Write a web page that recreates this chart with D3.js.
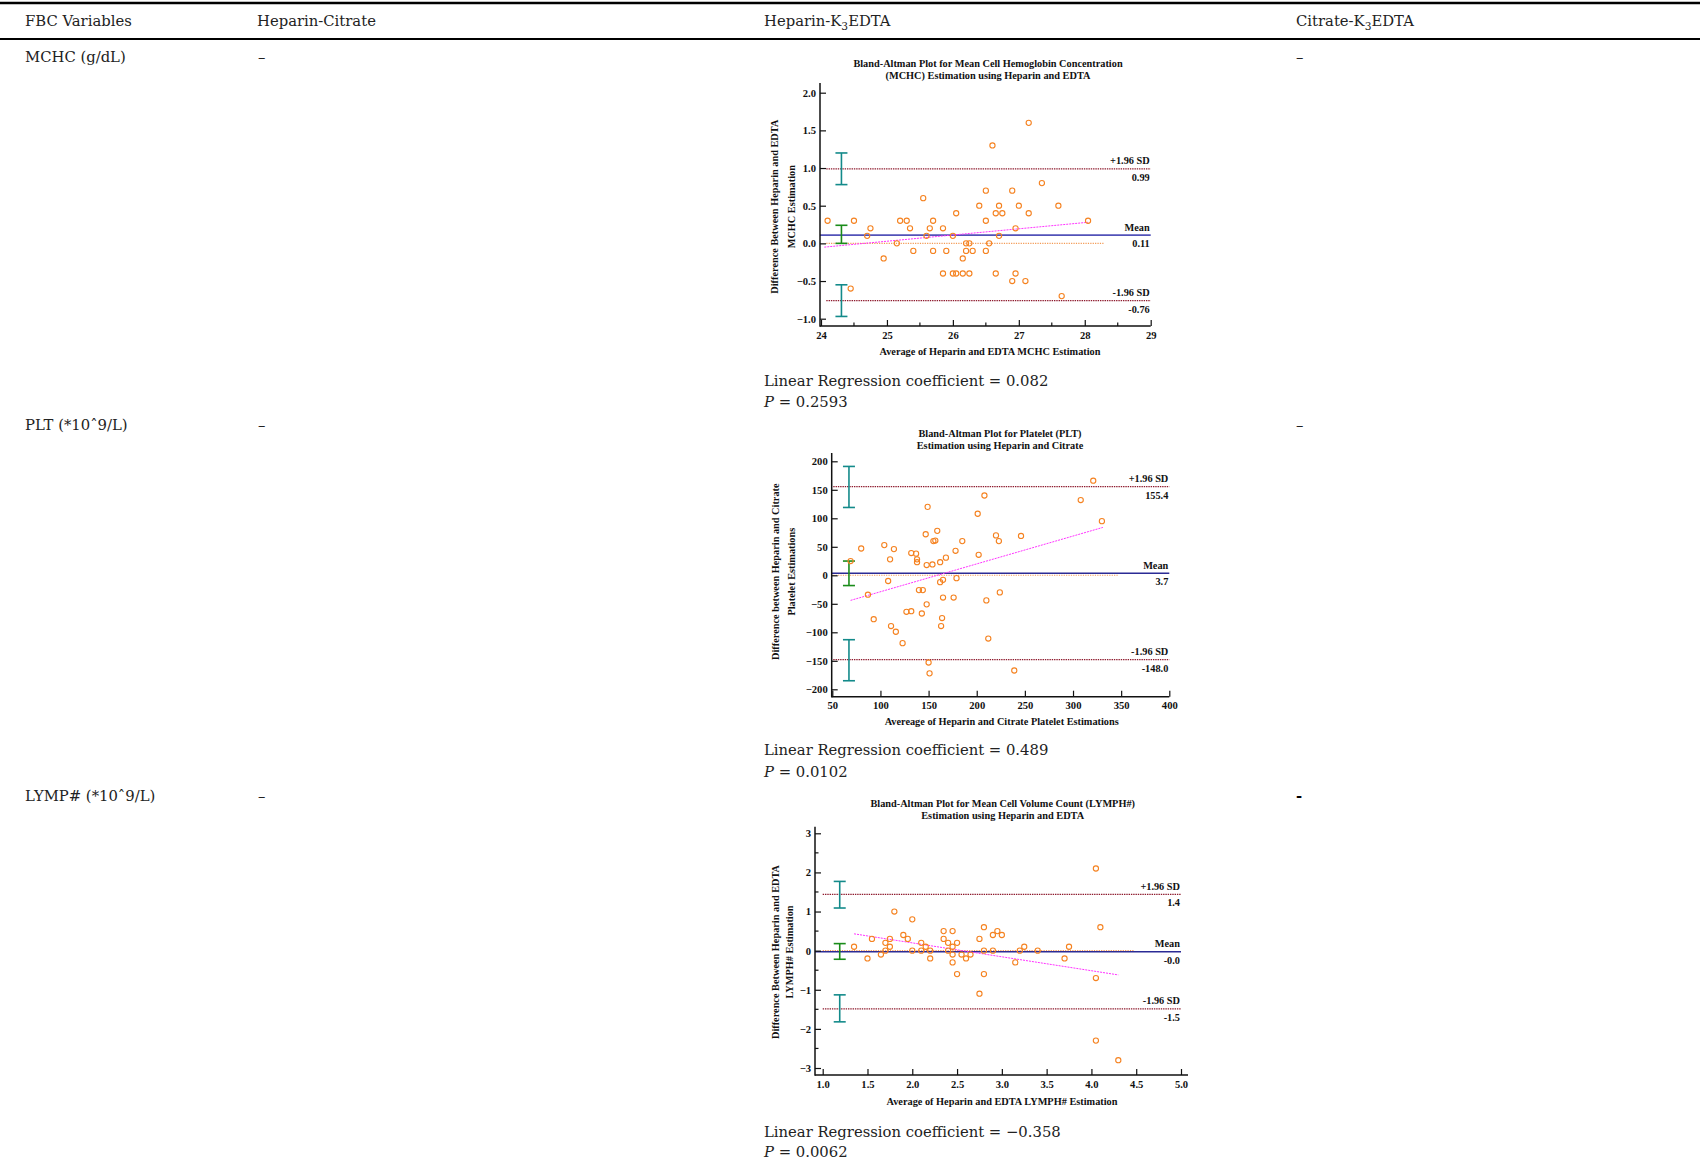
<!DOCTYPE html>
<html><head><meta charset="utf-8">
<script src="https://cdn.jsdelivr.net/npm/d3@7"></script>
<style>body{margin:0;background:#fff}</style>
</head><body><svg id="c" width="1700" height="1162"></svg>
<script>
// ---------- table text ----------
const headers = ["FBC Variables", "Heparin-Citrate", "Heparin-K|3|EDTA", "Citrate-K|3|EDTA"];
const rowLabels = ["MCHC (g/dL)", "PLT (*10ˆ9/L)", "LYMP# (*10ˆ9/L)"];
const regCoefs = ["0.082", "0.489", "\u22120.358"];
const pValues = ["0.2593", "0.0102", "0.0062"];

// ---------- MCHC (Heparin vs EDTA) ----------
const mchcAvg  = [24.1,24.45,24.5,24.7,24.75,24.95,25.15,25.2,25.3,25.35,25.4,25.55,25.6,25.65,25.7,25.7,25.85,25.85,25.9,26.0,26.05,26.0,26.05,26.15,26.15,26.2,26.2,26.25,26.25,26.3,26.4,26.5,26.5,26.5,26.55,26.6,26.65,26.65,26.7,26.7,26.75,26.9,26.9,26.95,26.95,27.0,27.1,27.15,27.15,27.35,27.6,27.65,28.05];
const mchcDiff = [0.3,-0.6,0.3,0.1,0.2,-0.2,0.0,0.3,0.3,0.2,-0.1,0.6,0.1,0.2,0.3,-0.1,0.2,-0.4,-0.1,0.1,0.4,-0.4,-0.4,-0.4,-0.2,-0.1,0.0,0.0,-0.4,-0.1,0.5,0.7,0.3,-0.1,0.0,1.3,0.4,-0.4,0.5,0.1,0.4,0.7,-0.5,0.2,-0.4,0.5,-0.5,1.6,0.4,0.8,0.5,-0.7,0.3];
const mchcLimits = [0.99, 0.11, -0.76];           // +1.96 SD, mean, -1.96 SD
const mchcLimitText = ["0.99", "0.11", "-0.76"];
const mchcCI = [[0.78, 1.2], [0.0, 0.24], [-0.97, -0.55]];
const mchcReg = [[24.05, -0.05], [28.05, 0.28]];
const mchcZero = [24.08, 28.3];
const mchcXTicks = [24, 25, 26, 27, 28, 29];
const mchcYTicks = [-1.0, -0.5, 0.0, 0.5, 1.0, 1.5, 2.0];

// ---------- PLT (Heparin vs Citrate) ----------
const pltAvg  = [69,80,87,93,104,108,110,111,114,116,123,127,132,132,137,138,138,140,143,144,147,148,148,149,150,151,154,155,157,159,162,162,163,164,165,165,168,176,178,179,185,201,202,208,210,212,220,223,224,239,246,308,321,330];
const pltDiff = [25,47,-34,-77,53,-10,28,-89,46,-99,-119,-64,39,-63,38,28,23,-26,-67,-26,72,-51,18,120,-153,-172,19,60,61,78,23,-12,-89,-75,-39,-8,31,-39,43,-5,60,108,36,140,-44,-111,70,60,-30,-167,69,132,166,95];
const pltLimits = [155.4, 3.7, -148.0];
const pltLimitText = ["155.4", "3.7", "-148.0"];
const pltCI = [[119, 191], [-18, 25], [-185, -113]];
const pltReg = [[69, -44], [331, 84]];
const pltZero = [51, 347];
const pltXTicks = [50, 100, 150, 200, 250, 300, 350, 400];
const pltYTicks = [-200, -150, -100, -50, 0, 50, 100, 150, 200];

// ---------- LYMPH# (Heparin vs EDTA) ----------
const lymAvg  = [1.35,1.5,1.55,1.65,1.7,1.7,1.75,1.75,1.8,1.9,1.95,2.0,2.0,2.1,2.1,2.15,2.2,2.2,2.35,2.35,2.4,2.4,2.45,2.45,2.45,2.45,2.5,2.5,2.55,2.6,2.65,2.75,2.75,2.8,2.8,2.8,2.9,2.9,2.95,3.0,3.15,3.2,3.25,3.4,3.7,3.75,4.05,4.05,4.05,4.1,4.3];
const lymDiff = [0.1,-0.2,0.3,-0.1,0.2,0.0,0.3,0.1,1.0,0.4,0.3,0.8,0.0,0.2,0.0,0.1,0.0,-0.2,0.5,0.3,0.2,0.0,0.5,0.1,-0.1,-0.3,0.2,-0.6,-0.1,-0.2,-0.1,0.3,-1.1,0.6,0.0,-0.6,0.4,0.0,0.5,0.4,-0.3,0.0,0.1,0.0,-0.2,0.1,2.1,-0.7,-2.3,0.6,-2.8];
const lymLimits = [1.44, -0.03, -1.49];
const lymLimitText = ["1.4", "-0.0", "-1.5"];
const lymCI = [[1.09, 1.77], [-0.22, 0.18], [-1.82, -1.13]];
const lymReg = [[1.35, 0.43], [4.3, -0.62]];
const lymZero = [1.0, 4.47];
const lymXTicks = [1.0, 1.5, 2.0, 2.5, 3.0, 3.5, 4.0, 4.5, 5.0];
const lymYTicks = [-3, -2, -1, 0, 1, 2, 3];

const svg = d3.select("#c");
const tableFont = "'DejaVu Serif', serif";
const plotFont = "'Liberation Serif', 'Times New Roman', serif";
const TFS = 14.8;
const PFS = 10.3;

// ---------- table ----------
svg.append("line").attr("x1", 0).attr("x2", 1700).attr("y1", 3).attr("y2", 3).attr("stroke", "#000").attr("stroke-width", 2.5);
svg.append("line").attr("x1", 0).attr("x2", 1700).attr("y1", 39).attr("y2", 39).attr("stroke", "#000").attr("stroke-width", 2);

const colX = [25, 257, 764, 1296];
function richText(sel, str) {
  str.split("|").forEach((part, i) => {
    const t = sel.append("tspan").text(part);
    if (i % 2 === 1) t.attr("font-size", "0.72em").attr("dy", 4);
    else if (i > 0) t.attr("dy", -4);
  });
}
headers.forEach((h, i) => {
  const t = svg.append("text").attr("x", colX[i]).attr("y", 26)
    .attr("font-family", tableFont).attr("font-size", TFS).attr("fill", "#222");
  richText(t, h);
});
const rowY = [62, 430, 801];
rowLabels.forEach((r, i) => {
  svg.append("text").attr("x", colX[0]).attr("y", rowY[i]).text(r)
    .attr("font-family", tableFont).attr("font-size", TFS).attr("fill", "#222");
  svg.append("text").attr("x", 258).attr("y", rowY[i]).text("\u2013")
    .attr("font-family", tableFont).attr("font-size", TFS).attr("fill", "#222");
  if (i < 2) {
    svg.append("text").attr("x", 1296).attr("y", rowY[i]).text("\u2013")
      .attr("font-family", tableFont).attr("font-size", TFS).attr("fill", "#222");
  } else {
    svg.append("text").attr("x", 1296).attr("y", rowY[i]).text("-")
      .attr("font-family", tableFont).attr("font-size", TFS).attr("font-weight", "bold").attr("fill", "#000");
  }
});
const regY = [[386, 407], [755, 777], [1137, 1157]];
regCoefs.forEach((c, i) => {
  svg.append("text").attr("x", 764).attr("y", regY[i][0]).text("Linear Regression coefficient = " + c)
    .attr("font-family", tableFont).attr("font-size", TFS).attr("fill", "#222");
  const p = svg.append("text").attr("x", 764).attr("y", regY[i][1])
    .attr("font-family", tableFont).attr("font-size", TFS).attr("fill", "#222");
  p.append("tspan").text("P").attr("font-style", "italic");
  p.append("tspan").text(" = " + pValues[i]);
});

// ---------- Bland-Altman plots ----------
function drawBA(cfg) {
  const g = svg.append("g");
  const x = d3.scaleLinear().domain([cfg.xTicks[0], cfg.xTicks[cfg.xTicks.length - 1]]).range(cfg.xRange);
  const y = d3.scaleLinear().domain([cfg.yTicks[0], cfg.yTicks[cfg.yTicks.length - 1]]).range(cfg.yRange);
  const ax = cfg.axisX, ay = cfg.axisY;
  const xEnd = cfg.xEnd || cfg.xRange[1];

  // reference lines
  const xMax = x.domain()[1];
  g.append("line").attr("x1", x(cfg.zero[0])).attr("x2", x(cfg.zero[1])).attr("y1", y(0)).attr("y2", y(0))
    .attr("stroke", "#f39a55").attr("stroke-width", 1.1).attr("stroke-dasharray", "1.2,1.2");
  [0, 2].forEach(k => {
    g.append("line").attr("x1", x(cfg.zero[0])).attr("x2", x(xMax)).attr("y1", y(cfg.limits[k])).attr("y2", y(cfg.limits[k]))
      .attr("stroke", "#8e1b2e").attr("stroke-width", 1.3).attr("stroke-dasharray", "1.4,0.9");
  });
  g.append("line").attr("x1", ax).attr("x2", x(xMax)).attr("y1", y(cfg.limits[1])).attr("y2", y(cfg.limits[1]))
    .attr("stroke", cfg.meanColor).attr("stroke-width", 1.6);

  // regression
  g.append("line").attr("x1", x(cfg.reg[0][0])).attr("y1", y(cfg.reg[0][1]))
    .attr("x2", x(cfg.reg[1][0])).attr("y2", y(cfg.reg[1][1]))
    .attr("stroke", "#ff33ff").attr("stroke-width", 1).attr("stroke-dasharray", "2,1");

  // confidence intervals
  const ciColors = ["#138a8a", "#1a8c1a", "#138a8a"];
  cfg.ci.forEach((c, k) => {
    const cx = x(cfg.ciX);
    const ci = g.append("g").attr("stroke", ciColors[k]).attr("stroke-width", 1.6);
    ci.append("line").attr("x1", cx).attr("x2", cx).attr("y1", y(c[0])).attr("y2", y(c[1]));
    [c[0], c[1]].forEach(v => ci.append("line").attr("x1", cx - 6).attr("x2", cx + 6).attr("y1", y(v)).attr("y2", y(v)));
  });

  // points
  g.append("g").selectAll("circle").data(cfg.avg.map((a, i) => [a, cfg.diff[i]])).join("circle")
    .attr("cx", d => x(d[0])).attr("cy", d => y(d[1])).attr("r", 2.6)
    .attr("fill", "none").attr("stroke", "#f58220").attr("stroke-width", 1.1);

  // limit labels
  const names = ["+1.96 SD", "Mean", "-1.96 SD"];
  cfg.limits.forEach((v, k) => {
    g.append("text").attr("x", x(xMax) - 1).attr("y", y(v) - 4.5).text(names[k])
      .attr("text-anchor", "end").attr("font-family", plotFont).attr("font-weight", "bold").attr("font-size", PFS).attr("fill", "#111");
    g.append("text").attr("x", x(xMax) - 1).attr("y", y(v) + 12).text(cfg.limitText[k])
      .attr("text-anchor", "end").attr("font-family", plotFont).attr("font-weight", "bold").attr("font-size", PFS).attr("fill", "#111");
  });

  // axes
  const yAxis = d3.axisLeft(y).tickValues(cfg.yTicks).tickFormat(cfg.yFmt).tickSize(-6).tickPadding(4);
  const ya = g.append("g").attr("transform", `translate(${ax},0)`).call(yAxis);
  ya.select(".domain").remove();
  const xAxis = d3.axisBottom(x).tickValues(cfg.xTicks).tickFormat(cfg.xFmt).tickSize(-6).tickPadding(5);
  const xa = g.append("g").attr("transform", `translate(0,${ay})`).call(xAxis);
  xa.select(".domain").remove();
  [ya, xa].forEach(a => {
    a.selectAll("text").attr("font-family", plotFont).attr("font-weight", "bold").attr("font-size", 10.6).attr("fill", "#111");
    a.selectAll("line").attr("stroke", "#111").attr("stroke-width", 1.2);
  });
  if (cfg.xMinor) {
    g.selectAll(null).data(cfg.xMinor).join("line").attr("x1", d => x(d)).attr("x2", d => x(d))
      .attr("y1", ay).attr("y2", ay - 3.5).attr("stroke", "#111").attr("stroke-width", 1.2);
  }
  if (cfg.yMinor) {
    g.selectAll(null).data(cfg.yMinor).join("line").attr("y1", d => y(d)).attr("y2", d => y(d))
      .attr("x1", ax).attr("x2", ax + 3.5).attr("stroke", "#111").attr("stroke-width", 1.2);
  }
  g.append("line").attr("x1", ax).attr("x2", ax).attr("y1", cfg.yTop).attr("y2", ay + 0.75).attr("stroke", "#111").attr("stroke-width", 1.5);
  g.append("line").attr("x1", ax).attr("x2", xEnd).attr("y1", ay).attr("y2", ay).attr("stroke", "#111").attr("stroke-width", 1.5);

  // titles
  const tx = cfg.titleX;
  cfg.title.forEach((t, k) => {
    g.append("text").attr("x", tx).attr("y", cfg.titleY + k * 12.2).text(t)
      .attr("text-anchor", "middle").attr("font-family", plotFont).attr("font-weight", "bold").attr("font-size", PFS).attr("fill", "#111");
  });
  g.append("text").attr("x", cfg.xLabelPos[0]).attr("y", cfg.xLabelPos[1]).text(cfg.xLabel)
    .attr("text-anchor", "middle").attr("font-family", plotFont).attr("font-weight", "bold").attr("font-size", PFS).attr("fill", "#111");
  const yl = g.append("g").attr("transform", `translate(${cfg.yLabelPos[0]},${cfg.yLabelPos[1]}) rotate(-90)`);
  cfg.yLabel.forEach((t, k) => {
    yl.append("text").attr("x", 0).attr("y", k * cfg.yLabelGap).text(t)
      .attr("text-anchor", "middle").attr("font-family", plotFont).attr("font-weight", "bold").attr("font-size", PFS).attr("fill", "#111");
  });
}

const fmt1 = d3.format(".1f");
const fmt0 = d3.format("d");

drawBA({
  avg: mchcAvg, diff: mchcDiff, limits: mchcLimits, limitText: mchcLimitText, ci: mchcCI, ciX: 24.31,
  reg: mchcReg, zero: mchcZero, xTicks: mchcXTicks, yTicks: mchcYTicks, xMinor: [24.5, 25.5, 26.5, 27.5, 28.5],
  xFmt: fmt0, yFmt: fmt1,
  xRange: [821, 1150.7], yRange: [318.7, 92.7], axisX: 820, axisY: 326, yTop: 83,
  meanColor: "#5252b8",
  title: ["Bland-Altman Plot for Mean Cell Hemoglobin Concentration", "(MCHC) Estimation using Heparin and EDTA"],
  titleX: 988, titleY: 66.5,
  xLabel: "Average of Heparin and EDTA MCHC Estimation", xLabelPos: [990, 355],
  yLabel: ["Difference Between Heparin and EDTA", "MCHC Estimation"], yLabelPos: [777.5, 206.7], yLabelGap: 17.7
});

drawBA({
  avg: pltAvg, diff: pltDiff, limits: pltLimits, limitText: pltLimitText, ci: pltCI, ciX: 67.3,
  reg: pltReg, zero: pltZero, xTicks: pltXTicks, yTicks: pltYTicks,
  xFmt: fmt0, yFmt: fmt0,
  xRange: [832.3, 1169.3], yRange: [689.3, 461.3], axisX: 831.7, axisY: 696.7, yTop: 453,
  meanColor: "#2b2b95",
  title: ["Bland-Altman Plot for Platelet (PLT)", "Estimation using Heparin and Citrate"],
  titleX: 1000, titleY: 436.5,
  xLabel: "Avereage of Heparin and Citrate Platelet Estimations", xLabelPos: [1001.7, 725],
  yLabel: ["Difference between Heparin and Citrate", "Platelet Estimations"], yLabelPos: [778.5, 571.7], yLabelGap: 16
});

drawBA({
  avg: lymAvg, diff: lymDiff, limits: lymLimits, limitText: lymLimitText, ci: lymCI, ciX: 1.19,
  reg: lymReg, zero: lymZero, xTicks: lymXTicks, yTicks: lymYTicks, yMinor: [-2.5, -1.5, -0.5, 0.5, 1.5, 2.5],
  xFmt: fmt1, yFmt: fmt0,
  xRange: [822.7, 1181], yRange: [1068, 833.3], axisX: 815, axisY: 1075, yTop: 826.7, xEnd: 1188,
  meanColor: "#2b2b95",
  title: ["Bland-Altman Plot for Mean Cell Volume Count (LYMPH#)", "Estimation using Heparin and EDTA"],
  titleX: 1002.7, titleY: 806.8,
  xLabel: "Average of Heparin and EDTA LYMPH# Estimation", xLabelPos: [1002, 1104.5],
  yLabel: ["Difference Between Heparin and EDTA", "LYMPH# Estimation"], yLabelPos: [778.5, 952], yLabelGap: 14.3
});
</script></body></html>
